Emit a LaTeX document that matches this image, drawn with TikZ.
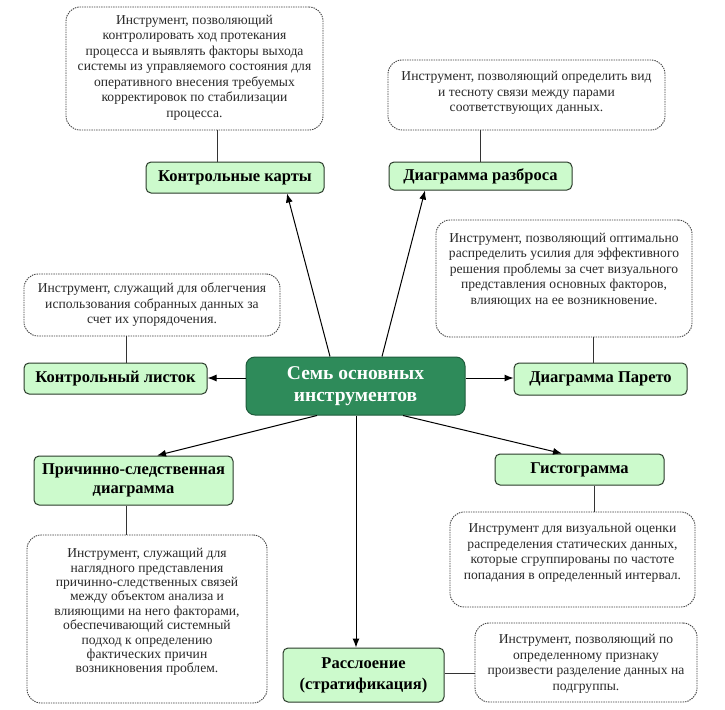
\documentclass[tikz,border=0pt]{standalone}
\usepackage{fontspec}
\setmainfont{Liberation Serif}
\usetikzlibrary{arrows.meta,calc}
\definecolor{lblfill}{HTML}{CCFACC}
\definecolor{lblborder}{HTML}{2A3A2A}
\definecolor{cfill}{HTML}{2E8B5A}
\definecolor{cborder}{HTML}{1F5C3C}
\definecolor{dborder}{HTML}{404040}
\definecolor{dtext}{HTML}{2A2A2A}
\tikzset{
  descbox/.style={draw=dborder, line width=0.9pt, dash pattern=on 1.4pt off 1pt, rounded corners=14pt, fill=white},
  desctext/.style={align=center, text=dtext, font=\fontsize{13.6}{15.5}\selectfont, inner sep=0pt},
  lbl/.style={draw=lblborder, line width=1pt, fill=lblfill, rounded corners=5pt, align=center, font=\fontsize{16.5}{19}\selectfont\bfseries, inner sep=0pt},
  central/.style={draw=cborder, line width=1pt, fill=cfill, rounded corners=9pt, align=center, text=white, font=\fontsize{19.5}{22}\selectfont\bfseries, inner sep=0pt},
  conn/.style={draw=black!80, line width=1pt},
  arr/.style={draw=black, line width=1pt, -{Latex[length=9pt,width=7pt]}}
}
\begin{document}
\begin{tikzpicture}[x=1pt,y=-1pt]
\useasboundingbox[fill=white] (0,0) rectangle (725,709);
% description boxes
\node[descbox, minimum width=257pt, minimum height=123pt] (d1) at (194.5,68.5) {};
\node[desctext] (t1) at (194.5,67.5) {Инструмент, позволяющий\\контролировать ход протекания\\процесса и выявлять факторы выхода\\системы из управляемого состояния для\\оперативного внесения требуемых\\корректировок по стабилизации\\процесса.};
\node[descbox, minimum width=277pt, minimum height=70pt] (d2) at (526.5,95) {};
\node[desctext] (t2) at (526.5,93) {Инструмент, позволяющий определить вид\\и тесноту связи между парами\\соответствующих данных.};
\node[descbox, minimum width=256pt, minimum height=117pt] (d3) at (564,278.5) {};
\node[desctext] (t3) at (564,270) {Инструмент, позволяющий оптимально\\распределить усилия для эффективного\\решения проблемы за счет визуального\\представления основных факторов,\\влияющих на ее возникновение.};
\node[descbox, minimum width=256pt, minimum height=62pt] (d4) at (152,305) {};
\node[desctext] (t4) at (152,305) {Инструмент, служащий для облегчения\\использования собранных данных за\\счет их упорядочения.};
\node[descbox, minimum width=240pt, minimum height=168pt] (d5) at (147,619) {};
\node[desctext, font=\fontsize{13.6}{14.4}\selectfont] (t5) at (147,612) {Инструмент, служащий для\\наглядного представления\\причинно-следственных связей\\между объектом анализа и\\влияющими на него факторами,\\обеспечивающий системный\\подход к определению\\фактических причин\\возникновения проблем.};
\node[descbox, minimum width=245pt, minimum height=95pt] (d6) at (572.5,559.5) {};
\node[desctext] (t6) at (572.5,553) {Инструмент для визуальной оценки\\распределения статических данных,\\которые сгруппированы по частоте\\попадания в определенный интервал.};
\node[descbox, minimum width=222pt, minimum height=79pt] (d7) at (586,662.5) {};
\node[desctext] (t7) at (586,664) {Инструмент, позволяющий по\\определенному признаку\\произвести разделение данных на\\подгруппы.};
% labels
\node[lbl, minimum width=178pt, minimum height=31pt] (L1) at (235,177.5) {Контрольные карты};
\node[lbl, minimum width=183pt, minimum height=28pt] (L2) at (480.5,176) {Диаграмма разброса};
\node[lbl, minimum width=173pt, minimum height=32pt] (L3) at (600.5,379) {Диаграмма Парето};
\node[lbl, minimum width=183pt, minimum height=31pt] (L4) at (115.5,378.5) {Контрольный листок};
\node[lbl, minimum width=199pt, minimum height=49pt] (L5) at (133.5,480.5) {Причинно-следственная\\диаграмма};
\node[lbl, minimum width=169pt, minimum height=31pt] (L6) at (579.5,469.5) {Гистограмма};
\node[lbl, minimum width=161pt, minimum height=54pt, font=\fontsize{16.5}{21}\selectfont\bfseries] (L7) at (363.5,675) {Расслоение\\(стратификация)};
% center
\node[central, minimum width=219pt, minimum height=58pt] (C) at (355.5,386) {Семь основных\\инструментов};
% connectors
\draw[conn] (d1.south -| 217,0) -- (L1.north -| 217,0);
\draw[conn] (d2.south -| 480,0) -- (L2.north -| 480,0);
\draw[conn] (d3.south -| 593,0) -- (L3.north -| 593,0);
\draw[conn] (d4.south -| 126,0) -- (L4.north -| 126,0);
\draw[conn] (L5.south -| 126,0) -- (d5.north -| 126,0);
\draw[conn] (L6.south -| 594,0) -- (d6.north -| 594,0);
\draw[conn] (L7.east |- 0,673) -- (d7.west |- 0,673);
% arrows
\draw[arr] (C.north -| 330,0) -- (L1.south -| 287,0);
\draw[arr] (C.north -| 382,0) -- (L2.south -| 425,0);
\draw[arr] (C.west |- 0,378) -- (L4.east |- 0,378);
\draw[arr] (C.east |- 0,378) -- (L3.west |- 0,378);
\draw[arr] (C.south -| 317,0) -- (L5.north -| 157,0);
\draw[arr] (C.south -| 403,0) -- (L6.north -| 562,0);
\draw[arr] (C.south -| 356,0) -- (L7.north -| 356,0);
\end{tikzpicture}
\end{document}
